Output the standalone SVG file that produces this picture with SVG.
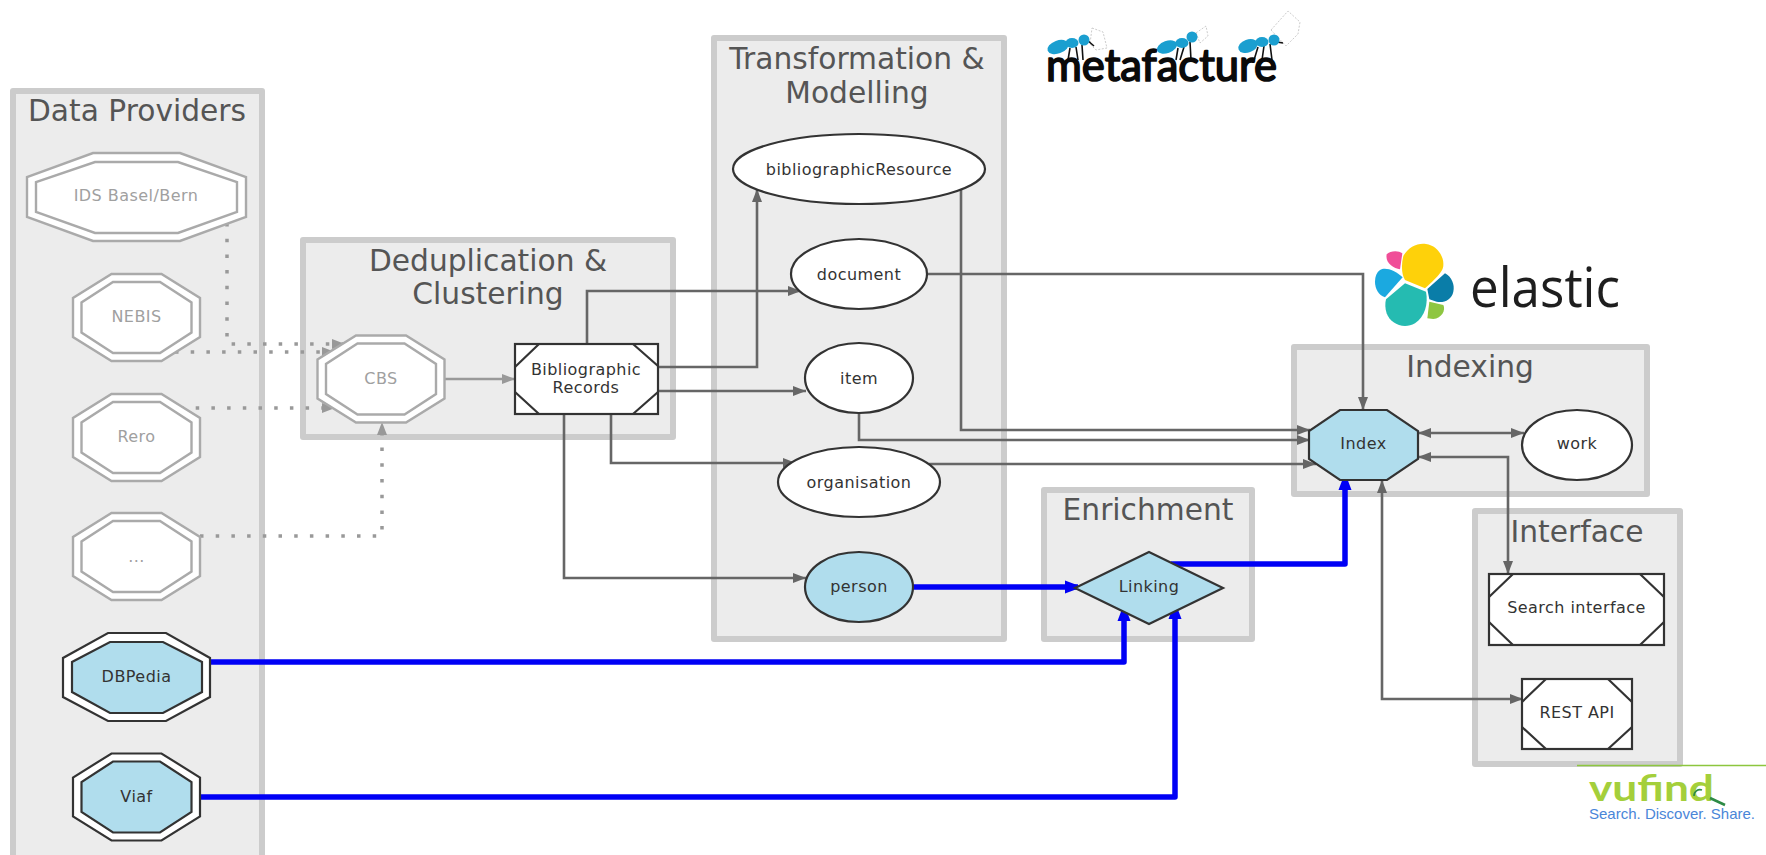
<svg xmlns="http://www.w3.org/2000/svg" width="1766" height="855" viewBox="0 0 1766 855">
<style>
text{font-family:"DejaVu Sans",Verdana,sans-serif}
.cl{fill:#ececec;stroke:#ccc;stroke-width:6;stroke-linejoin:round}
.ct{font-size:29.7px;fill:#555;text-anchor:middle}
.nt{font-size:16px;letter-spacing:.45px;fill:#333;text-anchor:middle}
.g .nt{fill:#a0a0a0}
.n{fill:#fff;stroke:#333;stroke-width:2.2}
.d{fill:none;stroke:#333;stroke-width:2.2}
.b{fill:#b0dded}
.g .n{stroke:#aaa;stroke-width:2.4}
.g .d{stroke:#aaa;stroke-width:2.4}
.e{fill:none;stroke:#666;stroke-width:2.6;marker-end:url(#ah)}
.both{marker-start:url(#ahs)}
.f{fill:none;stroke:#999;stroke-width:2.6;marker-end:url(#ahg)}
.dot{fill:none;stroke:#999;stroke-width:3.5;stroke-dasharray:3.5 12.2;marker-end:url(#ahg)}
.bl{fill:none;stroke:#0000f5;stroke-width:5.5;stroke-linejoin:round;marker-end:url(#ahb)}
.leg{stroke:#111;stroke-width:1.6;fill:none}
.sack{fill:#fff;stroke:#ccc;stroke-width:1;stroke-dasharray:2 1.5}
.ant{fill:#1b9fd0}
</style>
<defs>
<polygon id="o1" points="-25,-43.5 25,-43.5 63.5,-19.5 63.5,19.5 25,43.5 -25,43.5 -63.5,19.5 -63.5,-19.5"/>
<polygon id="o2" points="-23.5,-35.5 23.5,-35.5 55,-15 55,15 23.5,35.5 -23.5,35.5 -55,15 -55,-15"/>
<marker id="ah" markerUnits="userSpaceOnUse" markerWidth="14" markerHeight="12" refX="13" refY="6" orient="auto"><path d="M0,1 L13,6 L0,11Z" fill="#666"/></marker>
<marker id="ahs" markerUnits="userSpaceOnUse" markerWidth="14" markerHeight="12" refX="13" refY="6" orient="auto-start-reverse"><path d="M0,1 L13,6 L0,11Z" fill="#666"/></marker>
<marker id="ahg" markerUnits="userSpaceOnUse" markerWidth="14" markerHeight="12" refX="13" refY="6" orient="auto"><path d="M0,1 L13,6 L0,11Z" fill="#999"/></marker>
<marker id="ahb" markerUnits="userSpaceOnUse" markerWidth="16" markerHeight="16" refX="14" refY="8" orient="auto"><path d="M1,1.5 L13,6 Q15,8 13,10 L1,14.5Z" fill="#0000f5"/></marker>
</defs>
<rect width="1766" height="855" fill="#fff"/>
<g id="clusters">
<g id="cluster-data-providers"><rect class="cl" x="13" y="91" width="249" height="780"/><text class="ct" x="137" y="121">Data Providers</text></g>
<g id="cluster-deduplication"><rect class="cl" x="303" y="240" width="370" height="197"/><text class="ct" x="488" y="271">Deduplication &amp;</text><text class="ct" x="488" y="304">Clustering</text></g>
<g id="cluster-transformation"><rect class="cl" x="714" y="38" width="290" height="601"/><text class="ct" x="857" y="69">Transformation &amp;</text><text class="ct" x="857" y="103">Modelling</text></g>
<g id="cluster-enrichment"><rect class="cl" x="1044" y="490" width="208" height="149"/><text class="ct" x="1148" y="520">Enrichment</text></g>
<g id="cluster-indexing"><rect class="cl" x="1294" y="347" width="353" height="147"/><text class="ct" x="1470" y="377">Indexing</text></g>
<g id="cluster-interface"><rect class="cl" x="1475" y="511" width="205" height="253"/><text class="ct" x="1577" y="542">Interface</text></g>
</g>
<g id="connectors">
<path class="dot" d="M227,223 V344 H345"/>
<path class="dot" d="M175,352 H335"/>
<path class="dot" d="M180,408 H335"/>
<path class="dot" d="M200,536 H382 V422"/>
<path class="f" d="M444,379 H515"/>
<path class="e" d="M587,344 V291 H801"/>
<path class="e" d="M657,367 H757 V189"/>
<path class="e" d="M657,391 H806"/>
<path class="e" d="M611,414 V463 H796"/>
<path class="e" d="M564,414 V578 H806"/>
<path class="e" d="M961,190 V430 H1310"/>
<path class="e" d="M927,274 H1363 V410"/>
<path class="e" d="M859,413 V440 H1310"/>
<path class="e" d="M929,464 H1316"/>
<path class="e both" d="M1418,433 H1524"/>
<path class="e both" d="M1418,457 H1508 V574"/>
<path class="e both" d="M1382,480 V699 H1523"/>
<path class="bl" d="M913,587 H1078"/>
<path class="bl" d="M1171,564 H1345 V477"/>
<path class="bl" d="M210,662 H1124 V608"/>
<path class="bl" d="M200,797 H1175 V606"/>
</g>
<g id="IDS" class="g"><polygon class="n" points="93,153 180,153 246,177 246,217 180,241 93,241 27,217 27,177"/><polygon class="d" points="95,162 178,162 237,182 237,212 178,233 95,233 36,212 36,182"/><text class="nt" x="136" y="201">IDS Basel/Bern</text></g>
<g id="NEBIS" class="g" transform="translate(136.5 317.5)"><use href="#o1" class="n"/><use href="#o2" class="d"/><text class="nt" y="4">NEBIS</text></g>
<g id="Rero" class="g" transform="translate(136.5 437.5)"><use href="#o1" class="n"/><use href="#o2" class="d"/><text class="nt" y="4.5">Rero</text></g>
<g id="Others" class="g" transform="translate(136.5 556.5)"><use href="#o1" class="n"/><use href="#o2" class="d"/><text class="nt" y="5">...</text></g>
<g id="DBPedia"><polygon class="n" points="108,633 166,633 210,658 210,697 166,721 108,721 63,697 63,658"/><polygon class="d b" points="110,642 163,642 202,662 202,692 163,713 110,713 72,692 72,662"/><text class="nt" x="136.5" y="682">DBPedia</text></g>
<g id="Viaf" transform="translate(136.5 797)"><use href="#o1" class="n"/><use href="#o2" class="d b"/><text class="nt" y="5">Viaf</text></g>
<g id="CBS" class="g" transform="translate(381 379)"><use href="#o1" class="n"/><use href="#o2" class="d"/><text class="nt" y="5">CBS</text></g>
<g id="BibliographicRecords"><rect class="n" x="515" y="344" width="143" height="70"/><path class="d" d="M515,367 L539,344 M633,344 L658,366 M515,392 L539,414 M633,414 L658,392"/><text class="nt" x="586" y="375">Bibliographic</text><text class="nt" x="586" y="393">Records</text></g>
<g id="bibliographicResource"><ellipse class="n" cx="859" cy="169" rx="126" ry="35"/><text class="nt" x="859" y="175">bibliographicResource</text></g>
<g id="document"><ellipse class="n" cx="859" cy="274" rx="68" ry="35"/><text class="nt" x="859" y="280">document</text></g>
<g id="item"><ellipse class="n" cx="859" cy="378" rx="54" ry="35"/><text class="nt" x="859" y="384">item</text></g>
<g id="organisation"><ellipse class="n" cx="859" cy="482" rx="81" ry="35"/><text class="nt" x="859" y="488">organisation</text></g>
<g id="person"><ellipse class="n b" cx="859" cy="587" rx="54" ry="35"/><text class="nt" x="859" y="592">person</text></g>
<g id="Linking"><polygon class="n b" points="1149,552 1223,588 1149,624 1075,588"/><text class="nt" x="1149" y="592">Linking</text></g>
<g id="Index"><polygon class="n b" points="1340,410 1387,410 1418,431 1418,459 1387,480 1340,480 1309,459 1309,431"/><text class="nt" x="1363.5" y="449">Index</text></g>
<g id="work"><ellipse class="n" cx="1577" cy="445" rx="55" ry="35"/><text class="nt" x="1577" y="449">work</text></g>
<g id="SearchInterface"><rect class="n" x="1489" y="574" width="175" height="71"/><path class="d" d="M1489,597 L1513,574 M1640,574 L1664,597 M1489,622 L1513,645 M1640,645 L1664,622"/><text class="nt" x="1576.5" y="613">Search interface</text></g>
<g id="RESTAPI"><rect class="n" x="1522" y="679" width="110" height="70"/><path class="d" d="M1522,702 L1546,679 M1608,679 L1632,702 M1522,727 L1546,749 M1608,749 L1632,727"/><text class="nt" x="1577" y="718">REST API</text></g>
<g id="logo-metafacture">
<path class="sack" d="M1092,28 L1103,32 L1107,48 L1096,50 L1090,44Z"/>
<path class="sack" d="M1196,33 L1206,26 L1208,36 L1200,43Z"/>
<path class="sack" d="M1271,30 L1288,11 L1300,22 L1298,34 L1286,46Z"/>
<path class="leg" d="M1070,48 L1068,60 M1076,47 L1078,60 M1082,45 L1083,60 M1087,40 L1094,46"/>
<path class="leg" d="M1178,48 L1176,60 M1184,47 L1180,60 M1190,42 L1191,60"/>
<path class="leg" d="M1258,47 L1254,60 M1264,46 L1262,60 M1270,44 L1272,60 M1277,42 L1283,43"/>
<g class="ant"><ellipse cx="1058" cy="47" rx="11" ry="6.5" transform="rotate(-20 1058 47)"/><ellipse cx="1072" cy="43" rx="6.5" ry="5"/><ellipse cx="1084" cy="40" rx="5.5" ry="5.5"/></g>
<g class="ant"><ellipse cx="1167" cy="47" rx="10.5" ry="6" transform="rotate(-20 1167 47)"/><ellipse cx="1182" cy="43" rx="6.5" ry="5"/><ellipse cx="1192" cy="37" rx="5.5" ry="5.5"/></g>
<g class="ant"><ellipse cx="1248" cy="46" rx="10" ry="6.5" transform="rotate(-20 1248 46)"/><ellipse cx="1262" cy="42" rx="6.5" ry="5"/><ellipse cx="1274" cy="40" rx="5.5" ry="5.5"/></g>
<text x="1046" y="81" font-size="44" fill="#0a0a0a" stroke="#0a0a0a" stroke-width="1.7" stroke-linejoin="round" textLength="231" lengthAdjust="spacingAndGlyphs" style="font-family:Lato,sans-serif">metafacture</text>
</g>
<g id="logo-elastic">
<g transform="translate(1340 220) scale(.33333)">
<path fill="#fed10a" d="M190,108 C205,80 235,68 258,72 C290,76 312,108 310,135 C310,150 300,165 255,205 L195,180 C185,165 183,135 190,108Z"/>
<path fill="#f04e98" d="M140,103 C150,92 175,90 187,100 L180,148 C160,145 135,130 140,103Z"/>
<path fill="#1ba9e0" d="M120,150 C135,140 165,150 188,172 L135,232 C115,225 105,205 105,185 C105,170 110,157 120,150Z"/>
<path fill="#25bbb1" d="M138,238 L195,190 L258,215 C265,250 255,290 225,310 C190,330 150,310 140,280 C135,265 135,250 138,238Z"/>
<path fill="#0a7da8" d="M262,207 L315,160 C335,170 345,195 340,215 C335,240 310,250 290,245 L268,238Z"/>
<path fill="#8ec641" d="M268,245 L310,255 C318,270 305,295 280,297 L262,295Z"/>
</g>
<text x="1470" y="307" font-size="55" fill="#1e1e1e" textLength="150" lengthAdjust="spacingAndGlyphs" style="font-family:'Open Sans',sans-serif">elastic</text>
</g>
<g id="logo-vufind">
<path d="M1577,765.5 H1766" stroke="#8dc63f" stroke-width="1.6" fill="none"/>
<text x="1589" y="801" font-size="36" font-weight="700" fill="#a4cf3b" textLength="125" lengthAdjust="spacingAndGlyphs" style="font-family:Lato,sans-serif">vufind</text>
<path d="M1710,798 L1725,805" stroke="#2d8a45" stroke-width="2.6" fill="none"/>
<path d="M1694,796 A6,6 0 0 1 1702,790" stroke="#2d8a45" stroke-width="1.6" fill="none"/>
<text x="1589" y="819" font-size="14.6" fill="#4a86d8" textLength="166" lengthAdjust="spacingAndGlyphs" style="font-family:'Liberation Sans',Arial,sans-serif">Search. Discover. Share.</text>
</g>
</svg>
